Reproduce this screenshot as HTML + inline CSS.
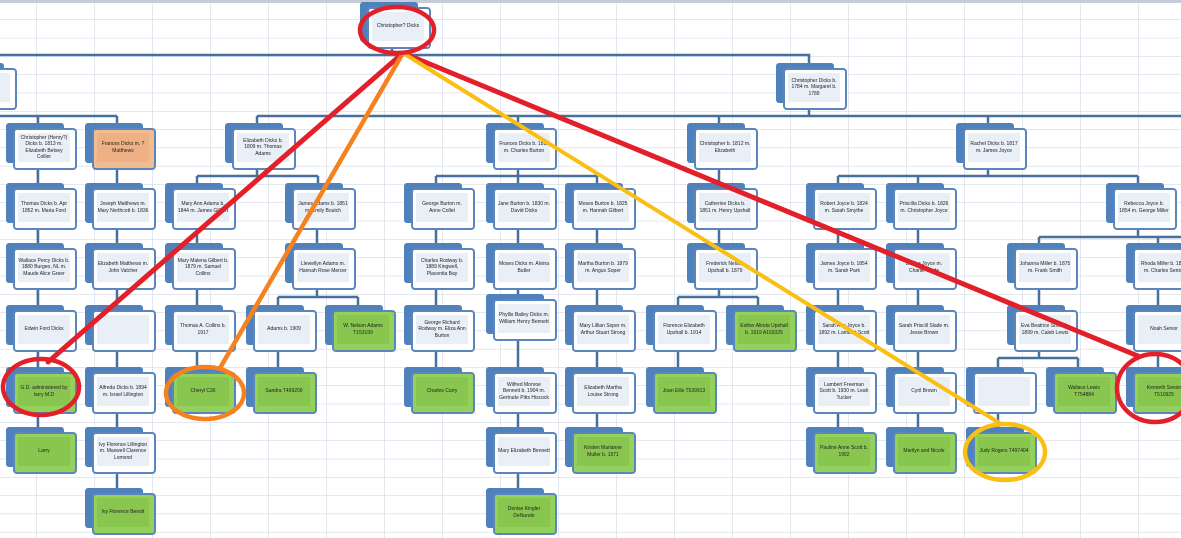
<!DOCTYPE html>
<html><head><meta charset="utf-8">
<style>
html,body{margin:0;padding:0;background:#fff;}
body{width:1181px;height:538px;position:relative;overflow:hidden;font-family:"Liberation Sans",sans-serif;}
svg{position:absolute;left:0;top:0;}
.n{position:absolute;width:64px;height:42px;}
.k{position:absolute;left:-7px;top:-5px;width:58px;height:40px;background:#4f81bd;border-radius:3px;}
.f{position:absolute;left:0;top:0;width:60px;height:38px;background:#fff;border:2px solid #5a86bd;border-radius:4px;}
.f p{position:absolute;left:3px;top:3px;right:5px;bottom:6px;margin:0;background:#e9eff7;display:flex;align-items:center;justify-content:center;text-align:center;font-size:5px;line-height:6.5px;color:#222;}
.g .f{background:#94d15c;}
.g .f p{background:#88c650;}
.o .f{background:#f3bb92;}
.o .f p{background:#efb085;}
</style></head><body>
<svg width="1181" height="538">
<defs><pattern id="gr" patternUnits="userSpaceOnUse" x="36" y="1.2" width="58" height="18.3">
<path d="M0 0H58M0 0V18.3" stroke="#c9d1e0" stroke-width="1" fill="none"/></pattern></defs>
<rect width="1181" height="538" fill="url(#gr)"/>
<rect width="1181" height="3" fill="#c5ccd8"/>
<path fill="none" stroke="#46709e" stroke-width="2.5" d="
M392 48V55M0 55H809V68
M0 116H117M38 116V128M117 116V128
M809 110V116M257 116H1181M257 116V128M518 116V128M719 116V128M988 116V128
M38 170V188M38 230V248M38 290V310M38 352V372M38 414V432
M117 170V188M117 230V248M117 290V310M117 352V372M117 414V432M117 474V493
M257 170V176M197 176H318M197 176V188M318 176V188
M197 230V248M197 290V310M197 352V372
M317 230V248M317 290V297M278 297H358M278 297V310M358 297V310
M278 352V372
M518 170V176M436 176H597M436 176V188M518 176V188M597 176V188
M436 230V248M436 290V310M436 352V372
M518 230V248M518 290V299M518 341V372M518 414V432M518 474V493
M597 230V248M597 290V310M597 352V372M597 414V432
M719 170V188M719 230V248M719 290V297M678 297H758M678 297V310M758 297V310
M678 352V372
M988 170V176M838 176H1138M838 176V188M918 176V188M1138 176V188
M838 230V248M838 290V310M838 352V372M838 414V432
M918 230V248M918 290V310M918 352V372M918 414V432
M1138 230V237M1039 237H1181M1039 237V248M1158 237V248
M1039 290V310M1039 352V358M998 358H1078M998 358V372M1078 358V372
M998 414V432
M1158 290V310M1158 352V372
"/>
</svg>

<div class="n" style="left:367px;top:7px"><div class="k"></div><div class="f"><p>Christopher? Dicks</p></div></div>
<div class="n" style="left:-47px;top:68px"><div class="k"></div><div class="f"><p>b. 1774</p></div></div>
<div class="n" style="left:783px;top:68px"><div class="k"></div><div class="f"><p>Christopher Dicks b. 1784 m. Margaret b. 1789</p></div></div>

<div class="n" style="left:13px;top:128px"><div class="k"></div><div class="f"><p>Christopher (Henry?) Dicks b. 1813 m. Elizabeth Betsey Collier</p></div></div>
<div class="n o" style="left:92px;top:128px"><div class="k"></div><div class="f"><p>Frances Dicks m. ? Matthews</p></div></div>
<div class="n" style="left:232px;top:128px"><div class="k"></div><div class="f"><p>Elizabeth Dicks b. 1809 m. Thomas Adams</p></div></div>
<div class="n" style="left:493px;top:128px"><div class="k"></div><div class="f"><p>Frances Dicks b. 1811 m. Charles Burton</p></div></div>
<div class="n" style="left:694px;top:128px"><div class="k"></div><div class="f"><p>Christopher b. 1812 m. Elizabeth</p></div></div>
<div class="n" style="left:963px;top:128px"><div class="k"></div><div class="f"><p>Rachel Dicks b. 1817 m. James Joyce</p></div></div>

<div class="n" style="left:13px;top:188px"><div class="k"></div><div class="f"><p>Thomas Dicks b. Apr 1852 m. Maria Ford</p></div></div>
<div class="n" style="left:92px;top:188px"><div class="k"></div><div class="f"><p>Joseph Matthews m. Mary Northcott b. 1836</p></div></div>
<div class="n" style="left:172px;top:188px"><div class="k"></div><div class="f"><p>Mary Ann Adams b. 1844 m. James Gilbert</p></div></div>
<div class="n" style="left:292px;top:188px"><div class="k"></div><div class="f"><p>James Adams b. 1851 m. Emily Boutch</p></div></div>
<div class="n" style="left:411px;top:188px"><div class="k"></div><div class="f"><p>George Burton m. Anne Collet</p></div></div>
<div class="n" style="left:493px;top:188px"><div class="k"></div><div class="f"><p>Jane Burton b. 1830 m. David Dicks</p></div></div>
<div class="n" style="left:572px;top:188px"><div class="k"></div><div class="f"><p>Moses Burton b. 1825 m. Hannah Gilbert</p></div></div>
<div class="n" style="left:694px;top:188px"><div class="k"></div><div class="f"><p>Catherine Dicks b. 1851 m. Henry Upshall</p></div></div>
<div class="n" style="left:813px;top:188px"><div class="k"></div><div class="f"><p>Robert Joyce b. 1824 m. Sarah Smythe</p></div></div>
<div class="n" style="left:893px;top:188px"><div class="k"></div><div class="f"><p>Priscilla Dicks b. 1826 m. Christopher Joyce</p></div></div>
<div class="n" style="left:1113px;top:188px"><div class="k"></div><div class="f"><p>Rebecca Joyce b. 1854 m. George Miller</p></div></div>

<div class="n" style="left:13px;top:248px"><div class="k"></div><div class="f"><p>Wallace Percy Dicks b. 1880 Burgeo, NL m. Maude Alice Greer</p></div></div>
<div class="n" style="left:92px;top:248px"><div class="k"></div><div class="f"><p>Elizabeth Matthews m. John Vatcher</p></div></div>
<div class="n" style="left:172px;top:248px"><div class="k"></div><div class="f"><p>Mary Malena Gilbert b. 1879 m. Samuel Collins</p></div></div>
<div class="n" style="left:292px;top:248px"><div class="k"></div><div class="f"><p>Llewellyn Adams m. Hannah Rose Mercer</p></div></div>
<div class="n" style="left:411px;top:248px"><div class="k"></div><div class="f"><p>Charles Rodway b. 1889 Kingwell, Placentia Bay</p></div></div>
<div class="n" style="left:493px;top:248px"><div class="k"></div><div class="f"><p>Moses Dicks m. Alvina Butler</p></div></div>
<div class="n" style="left:572px;top:248px"><div class="k"></div><div class="f"><p>Martha Burton b. 1879 m. Angus Soper</p></div></div>
<div class="n" style="left:694px;top:248px"><div class="k"></div><div class="f"><p>Frederick Nelson Upshall b. 1879</p></div></div>
<div class="n" style="left:813px;top:248px"><div class="k"></div><div class="f"><p>James Joyce b. 1854 m. Sarah Park</p></div></div>
<div class="n" style="left:893px;top:248px"><div class="k"></div><div class="f"><p>Bertha Joyce m. Charlie Slade</p></div></div>
<div class="n" style="left:1014px;top:248px"><div class="k"></div><div class="f"><p>Johanna Miller b. 1875 m. Frank Smith</p></div></div>
<div class="n" style="left:1133px;top:248px"><div class="k"></div><div class="f"><p>Rhoda Miller b. 1877 m. Charles Senior</p></div></div>

<div class="n" style="left:493px;top:299px"><div class="k"></div><div class="f"><p>Phyllis Bailey Dicks m. William Henry Bennett</p></div></div>

<div class="n" style="left:13px;top:310px"><div class="k"></div><div class="f"><p>Edwin Ford Dicks</p></div></div>
<div class="n" style="left:92px;top:310px"><div class="k"></div><div class="f"><p></p></div></div>
<div class="n" style="left:172px;top:310px"><div class="k"></div><div class="f"><p>Thomas A. Collins b. 1917</p></div></div>
<div class="n" style="left:253px;top:310px"><div class="k"></div><div class="f"><p>Adams b. 1909</p></div></div>
<div class="n g" style="left:332px;top:310px"><div class="k"></div><div class="f"><p>W. Nelson Adams T153199</p></div></div>
<div class="n" style="left:411px;top:310px"><div class="k"></div><div class="f"><p>George Richard Rodway m. Eliza Ann Burton</p></div></div>
<div class="n" style="left:572px;top:310px"><div class="k"></div><div class="f"><p>Mary Lillian Soper m. Arthur Stuart Strong</p></div></div>
<div class="n" style="left:653px;top:310px"><div class="k"></div><div class="f"><p>Florence Elizabeth Upshall b. 1914</p></div></div>
<div class="n g" style="left:733px;top:310px"><div class="k"></div><div class="f"><p>Esther Alinda Upshall b. 1919 A159325</p></div></div>
<div class="n" style="left:813px;top:310px"><div class="k"></div><div class="f"><p>Sarah Ann Joyce b. 1892 m. Lambert Scott</p></div></div>
<div class="n" style="left:893px;top:310px"><div class="k"></div><div class="f"><p>Sarah Priscill Slade m. Jesse Brown</p></div></div>
<div class="n" style="left:1014px;top:310px"><div class="k"></div><div class="f"><p>Eva Beatrice Smith b. 1899 m. Caleb Lewis</p></div></div>
<div class="n" style="left:1133px;top:310px"><div class="k"></div><div class="f"><p>Noah Senior</p></div></div>

<div class="n g" style="left:13px;top:372px"><div class="k"></div><div class="f"><p>G.D. administered by larry M.D</p></div></div>
<div class="n" style="left:92px;top:372px"><div class="k"></div><div class="f"><p>Alfreda Dicks b. 1894 m. Israel Lillington</p></div></div>
<div class="n g" style="left:172px;top:372px"><div class="k"></div><div class="f"><p>Cheryl C36</p></div></div>
<div class="n g" style="left:253px;top:372px"><div class="k"></div><div class="f"><p>Sandra T499209</p></div></div>
<div class="n g" style="left:411px;top:372px"><div class="k"></div><div class="f"><p>Charles Curry</p></div></div>
<div class="n" style="left:493px;top:372px"><div class="k"></div><div class="f"><p>Wilfred Monroe Bennett b. 1904 m. Gertrude Pitts Hiscock</p></div></div>
<div class="n" style="left:572px;top:372px"><div class="k"></div><div class="f"><p>Elizabeth Martha Louise Strong</p></div></div>
<div class="n g" style="left:653px;top:372px"><div class="k"></div><div class="f"><p>Joan Ellis T539913</p></div></div>
<div class="n" style="left:813px;top:372px"><div class="k"></div><div class="f"><p>Lambert Freeman Scott b. 1930 m. Leah Tucker</p></div></div>
<div class="n" style="left:893px;top:372px"><div class="k"></div><div class="f"><p>Cyril Brown</p></div></div>
<div class="n" style="left:973px;top:372px"><div class="k"></div><div class="f"><p></p></div></div>
<div class="n g" style="left:1053px;top:372px"><div class="k"></div><div class="f"><p>Wallace Lewis T754884</p></div></div>
<div class="n g" style="left:1133px;top:372px"><div class="k"></div><div class="f"><p>Kenneth Senior T510925</p></div></div>

<div class="n g" style="left:13px;top:432px"><div class="k"></div><div class="f"><p>Larry</p></div></div>
<div class="n" style="left:92px;top:432px"><div class="k"></div><div class="f"><p>Ivy Florence Lillington m. Maxwell Clarence Lomond</p></div></div>
<div class="n" style="left:493px;top:432px"><div class="k"></div><div class="f"><p>Mary Elizabeth Bennett</p></div></div>
<div class="n g" style="left:572px;top:432px"><div class="k"></div><div class="f"><p>Kirsten Marianne Muller b. 1971</p></div></div>
<div class="n g" style="left:813px;top:432px"><div class="k"></div><div class="f"><p>Pauline Anne Scott b. 1952</p></div></div>
<div class="n g" style="left:893px;top:432px"><div class="k"></div><div class="f"><p>Marilyn and Nicole</p></div></div>
<div class="n g" style="left:973px;top:432px"><div class="k"></div><div class="f"><p>Judy Rogers T497404</p></div></div>

<div class="n g" style="left:92px;top:493px"><div class="k"></div><div class="f"><p>Ivy Florence Benoit</p></div></div>
<div class="n g" style="left:493px;top:493px"><div class="k"></div><div class="f"><p>Denise Kingler DeNundo</p></div></div>

<svg width="1181" height="538" style="pointer-events:none">
<g fill="none" stroke-linecap="round">
<line x1="403" y1="53" x2="48" y2="362" stroke="#e3202a" stroke-width="5"/>
<line x1="403" y1="53" x2="1138" y2="356" stroke="#e3202a" stroke-width="5"/>
<line x1="403" y1="53" x2="220" y2="368" stroke="#f5821f" stroke-width="4.5"/>
<line x1="403" y1="53" x2="1001" y2="424" stroke="#fbbf13" stroke-width="4"/>
<ellipse cx="397" cy="30" rx="37" ry="23" stroke="#e3202a" stroke-width="4.5"/>
<ellipse cx="41" cy="387" rx="38" ry="28" stroke="#e3202a" stroke-width="4.5"/>
<ellipse cx="205" cy="393" rx="39" ry="26" stroke="#f5821f" stroke-width="4.5"/>
<ellipse cx="1005" cy="452" rx="40" ry="28" stroke="#fbbf13" stroke-width="4.5"/>
<ellipse cx="1155" cy="388" rx="38" ry="34" stroke="#e3202a" stroke-width="4.5"/>
</g>
</svg>
</body></html>
